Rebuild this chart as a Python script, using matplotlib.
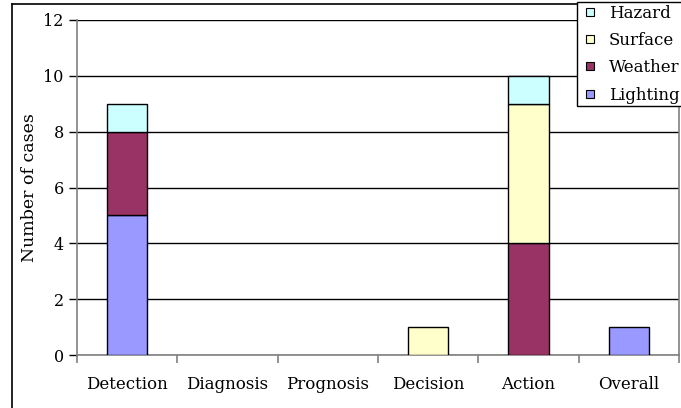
import matplotlib.pyplot as plt
from matplotlib.lines import Line2D
import numpy as np

# stages of the decision process and how many cases fall into each
stages = ['Detection', 'Diagnosis', 'Prognosis', 'Decision', 'Action', 'Overall']
lighting = [5, 0, 0, 0, 0, 1]
weather = [3, 0, 0, 0, 4, 0]
surface = [0, 0, 0, 1, 5, 0]
hazard = [1, 0, 0, 0, 1, 0]

series = [('Lighting', lighting, '#9999FF'),
          ('Weather', weather, '#993366'),
          ('Surface', surface, '#FFFFCC'),
          ('Hazard', hazard, '#CCFFFF')]

plt.rcParams['font.family'] = ['DejaVu Serif']

W, H = 681, 408
fig = plt.figure(figsize=(W / 100, H / 100), dpi=100)
ax = fig.add_axes([77 / W, 1 - 355 / H, (679 - 77) / W, (355 - 20) / H])

x = np.arange(len(stages))
bottom = np.zeros(len(stages))
for name, vals, col in series:
    vals = np.array(vals, dtype=float)
    nz = vals > 0  # empty segments are not drawn
    ax.bar(x[nz], vals[nz], 0.4, bottom=bottom[nz], color=col,
           edgecolor='black', linewidth=1, label=name, zorder=3)
    bottom += vals

ax.set_xlim(-0.5, len(stages) - 0.5)
ax.set_ylim(0, 12)
ax.set_yticks(range(0, 13, 2))
ax.yaxis.grid(True, color='black', linewidth=1, zorder=0)
ax.set_ylabel('Number of cases', fontsize=12.5, labelpad=4)

# category labels centred, tick marks between categories
ax.set_xticks(x)
ax.set_xticklabels(stages, fontsize=12)
ax.tick_params(axis='x', length=0, pad=15)
ax.set_xticks(np.arange(-0.5, len(stages)), minor=True)
ax.tick_params(axis='x', which='minor', length=6, color='#808080', width=1.2)
ax.tick_params(axis='y', length=6, color='black', width=1, labelsize=11.5)

ax.spines['top'].set_visible(False)
for s in ['left', 'bottom', 'right']:
    ax.spines[s].set_color('#808080')
    ax.spines[s].set_linewidth(1.2)

# legend in reverse stacking order, small square swatches
handles = [Line2D([], [], ls='none', marker='s', markersize=6,
                  markerfacecolor=col, markeredgecolor='black',
                  markeredgewidth=0.8) for _, _, col in series[::-1]]
leg = fig.legend(handles, [s[0] for s in series[::-1]],
                 loc='lower left', bbox_to_anchor=(577 / W, 1 - 106 / H),
                 fancybox=False, edgecolor='black', framealpha=1,
                 handlelength=1.3, handletextpad=0.45,
                 labelspacing=0.62, borderpad=0.15, borderaxespad=0,
                 fontsize=12)
leg.get_frame().set_linewidth(1)

# outer chart frame
fig.add_artist(Line2D([11.5 / W, 11.5 / W], [0, 1 - 3.5 / H], color='black', lw=1.2))
fig.add_artist(Line2D([11.5 / W, 1], [1 - 3.5 / H, 1 - 3.5 / H], color='black', lw=1.2))

fig.savefig('out.png', dpi=100)
